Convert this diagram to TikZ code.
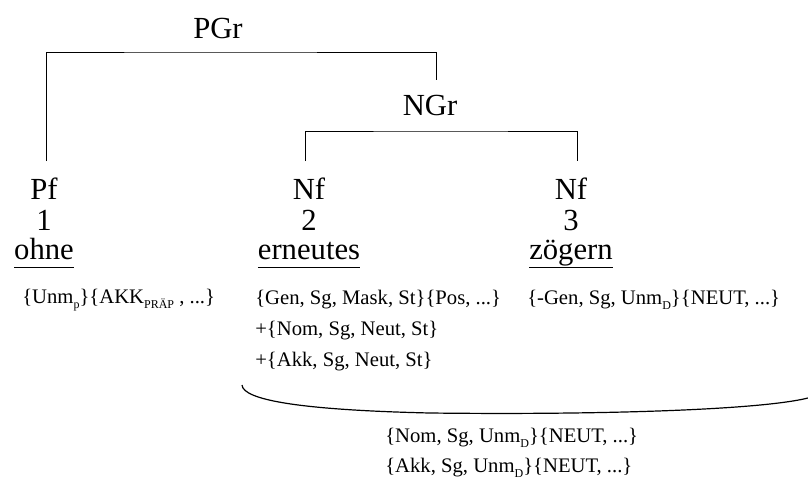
\documentclass[tikz,border=0pt]{standalone}
\usepackage{fontspec}
\setmainfont{Liberation Serif}
\usetikzlibrary{positioning}

\newcommand{\low}[1]{\raisebox{-0.5ex}{\fontsize{9}{9}\selectfont #1}}
\newcommand{\wrd}[1]{\underline{#1\vphantom{g}}}

\begin{document}
\begin{tikzpicture}[
    x=0.75pt, y=-0.75pt,
    cat/.style={font=\fontsize{23}{25}\selectfont, inner sep=0pt, anchor=base},
    feat/.style={font=\fontsize{15.5}{17}\selectfont, anchor=west, inner sep=0pt},
    branch/.style={line width=0.6pt}
]
\useasboundingbox (0,0) rectangle (808,494);

% phrase nodes
\node[cat] (pgr) at (218,38) {PGr};
\node[cat] (ngr) at (430,115) {NGr};

% word columns
\node[cat] (pf)  at (44,199)  {Pf};
\node[cat] (nf2) at (309,199) {Nf};
\node[cat] (nf3) at (571,199) {Nf};
\node[cat] (i1) at (44,230)  {1};
\node[cat] (i2) at (309,230) {2};
\node[cat] (i3) at (571,230) {3};
\node[cat] (w1) at (44,259)  {\wrd{ohne}};
\node[cat] (w2) at (309,259) {\wrd{erneutes}};
\node[cat] (w3) at (571,259) {\wrd{zögern}};

% brackets
\coordinate (pgrbar) at (200,52);
\coordinate (ngrbar) at (440,131);
\draw[branch, shorten <=12pt, shorten >=11pt]
    ([xshift=2pt]pf.north) |- (pgrbar) -| ([xshift=4.5pt]ngr.north);
\draw[branch, shorten <=12pt, shorten >=12pt]
    ([xshift=-2.5pt]nf2.north) |- (ngrbar) -| ([xshift=4.5pt]nf3.north);

% features
\node[feat] (f1)  at (22,300)  {\{Unm\low{p}\}\{AKK\low{PRÄP} , ...\}};
\node[feat] (f2a) at (255,300) {\{Gen, Sg, Mask, St\}\{Pos, ...\}};
\node[feat] (f2b) at (255,331) {+\{Nom, Sg, Neut, St\}};
\node[feat] (f2c) at (255,362) {+\{Akk, Sg, Neut, St\}};
\node[feat] (f3)  at (527,300) {\{-Gen, Sg, Unm\low{D}\}\{NEUT, ...\}};

% combined result of 2 and 3
\draw[line width=0.9pt] (242,385) .. controls (243,400) and (300,410) .. (430,413)
    .. controls (600,415) and (760,410) .. (808,398);
\node[feat] (g1) at (385,438) {\{Nom, Sg, Unm\low{D}\}\{NEUT, ...\}};
\node[feat] (g2) at (385,468) {\{Akk, Sg, Unm\low{D}\}\{NEUT, ...\}};
\end{tikzpicture}
\end{document}
